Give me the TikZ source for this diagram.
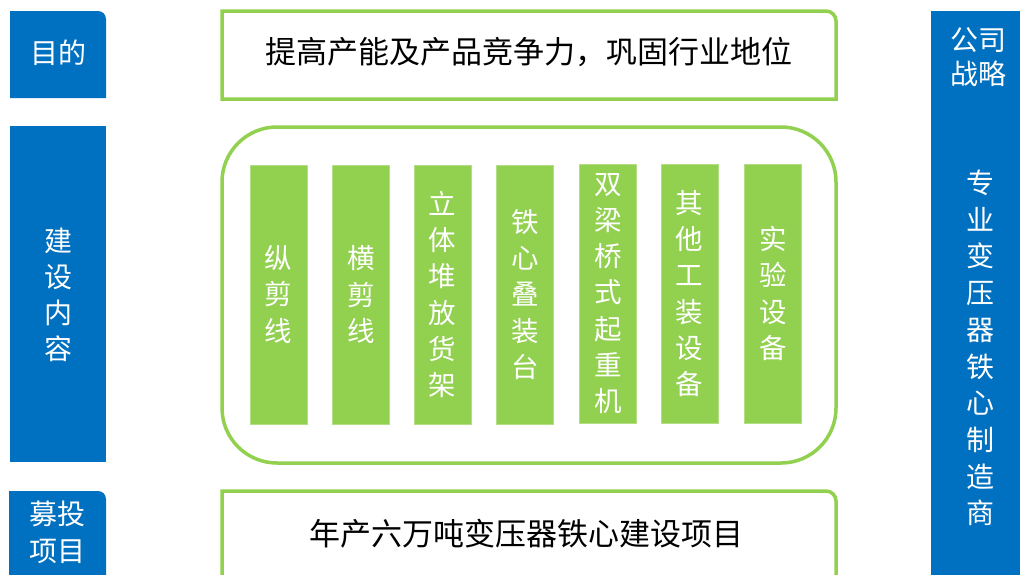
\documentclass[tikz,border=0pt]{standalone}
\usepackage{fontspec}
\newfontfamily\cjk{Noto Sans CJK SC}
\definecolor{mblue}{HTML}{0070C0}
\definecolor{mgreen}{HTML}{92D050}
\begin{document}
\begin{tikzpicture}[x=1pt,y=1pt,
  bluelbl/.style={text=white,font=\cjk\fontsize{28}{36}\selectfont,align=center,inner sep=0pt},
  barlbl/.style={text=white,font=\cjk\fontsize{27.5}{36.3}\selectfont,align=center,inner sep=0pt},
  maintext/.style={text=black,font=\cjk\fontsize{31}{34}\selectfont,inner sep=0pt},
  greenline/.style={draw=mgreen,line width=3.5pt},
  bar/.style={fill=mgreen,draw=mgreen!70!white,line width=0.6pt,minimum width=57pt,minimum height=259pt,inner sep=0pt}]
\useasboundingbox (0,0) rectangle (1020,-574);
% blue label boxes
\fill[mblue] (10,-98) -- (10,-11) -- (98,-11) arc[start angle=90,end angle=0,radius=8] -- (106,-98) -- cycle;
\fill[mblue] (10,-126) rectangle (106,-462);
\fill[mblue] (9,-580) -- (9,-491) -- (98,-491) arc[start angle=90,end angle=0,radius=8] -- (106,-580) -- cycle;
\fill[mblue] (931,-11) rectangle (1025,-580);
\node[bluelbl] (goal) at (58,-53) {目的};
\node[bluelbl] (content) at (58,-295) {建\\设\\内\\容};
\node[bluelbl,font=\cjk\fontsize{28}{37}\selectfont] (proj) at (57,-532) {募投\\项目};
\node[bluelbl,font=\cjk\fontsize{28}{34}\selectfont] (strat) at (978,-57) {公司\\战略};
\node[bluelbl,font=\cjk\fontsize{28}{36.7}\selectfont] (maker) at (980,-348) {专\\业\\变\\压\\器\\铁\\心\\制\\造\\商};
% green frames
\draw[greenline] (222,-99) -- (222,-11) -- (826,-11) arc[start angle=90,end angle=0,radius=10] -- (836,-99) -- cycle;
\draw[greenline,rounded corners=55pt] (222,-127) rectangle (836,-463);
\draw[greenline] (222,-585) -- (222,-491) -- (826,-491) arc[start angle=90,end angle=0,radius=10] -- (836,-585);
\node[maintext] (aim) at (529,-52) {提高产能及产品竞争力，巩固行业地位};
\node[maintext] (build) at (526,-534) {年产六万吨变压器铁心建设项目};
% bars
\node[bar] (b1) at (278.5,-294.5) {};
\node[bar] (b2) at (361,-294.5) {};
\node[bar] (b3) at (442.5,-294.5) {};
\node[bar] (b4) at (525,-294.5) {};
\node[bar] (b5) at (608,-293.5) {};
\node[bar] (b6) at (689.5,-293.5) {};
\node[bar] (b7) at (773,-293.5) {};
\node[barlbl] at (b1) {纵\\剪\\线};
\node[barlbl] at (b2) {横\\剪\\线};
\node[barlbl] at (b3) {立\\体\\堆\\放\\货\\架};
\node[barlbl] at (b4) {铁\\心\\叠\\装\\台};
\node[barlbl] at (b5) {双\\梁\\桥\\式\\起\\重\\机};
\node[barlbl] at (b6) {其\\他\\工\\装\\设\\备};
\node[barlbl] at (b7) {实\\验\\设\\备};
\end{tikzpicture}
\end{document}
